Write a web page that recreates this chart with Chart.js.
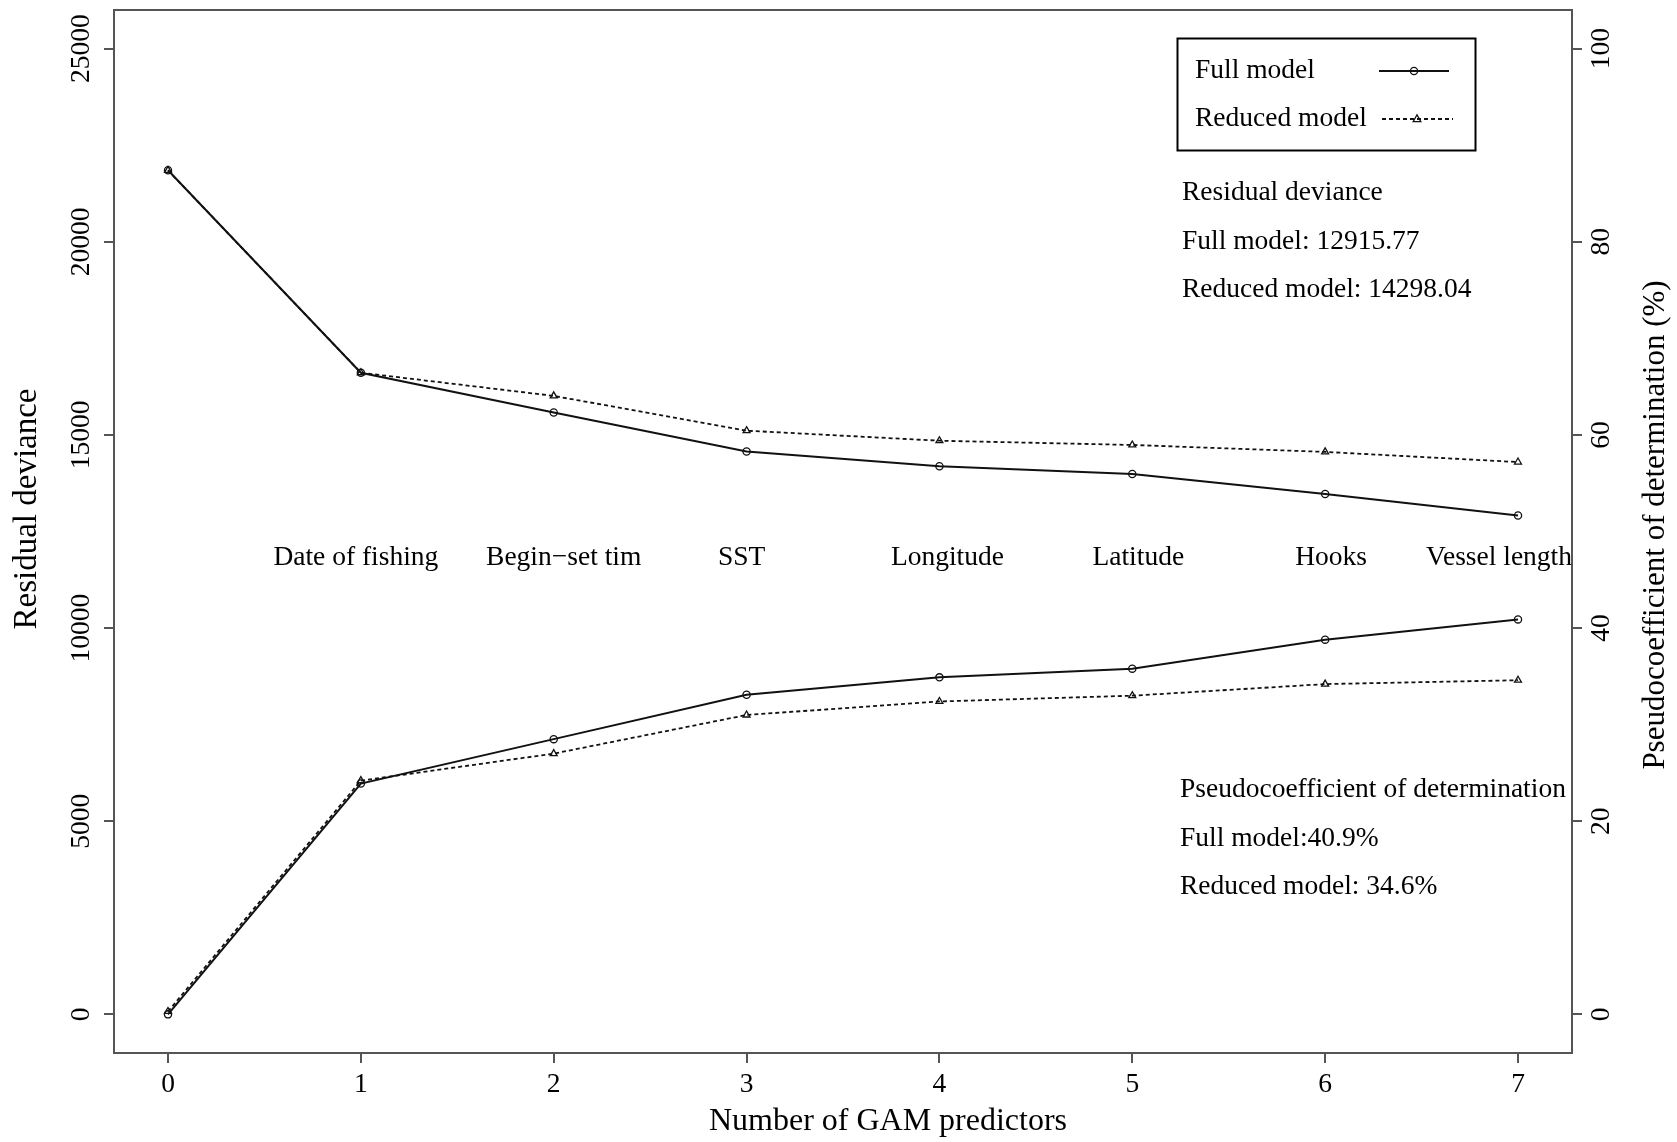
<!DOCTYPE html>
<html>
<head>
<meta charset="utf-8">
<script src="https://cdn.jsdelivr.net/npm/chart.js@4.4.1/dist/chart.umd.min.js"></script>
<style>
  html, body { margin: 0; padding: 0; background: #fff; }
</style>
</head>
<body>
<canvas id="chart" width="1677" height="1142"></canvas>
<script>
// number of GAM predictors (x axis)
const predictorCount = [0, 1, 2, 3, 4, 5, 6, 7];
// predictor added at each step
const predictorNames = ["", "Date of fishing", "Begin\u2212set tim", "SST", "Longitude", "Latitude", "Hooks", "Vessel length"];

// residual deviance (left axis)
const devianceFull = [21850, 16610, 15580, 14570, 14190, 13990, 13470, 12916];
const devianceReduced = [21850, 16610, 16010, 15110, 14850, 14740, 14560, 14298];

// pseudocoefficient of determination, % (right axis)
const pseudoFull = [0, 23.9, 28.5, 33.1, 34.9, 35.8, 38.8, 40.9];
const pseudoReduced = [0.3, 24.2, 27.0, 31.0, 32.4, 33.0, 34.2, 34.6];

// tick labels
const xTicks = [0, 1, 2, 3, 4, 5, 6, 7];
const devianceTicks = [0, 5000, 10000, 15000, 20000, 25000];
const pseudoTicks = [0, 20, 40, 60, 80, 100];

// text blocks in the plot
const seriesNames = ["Full model", "Reduced model"];
const devianceNotes = ["Residual deviance", "Full model: 12915.77", "Reduced model: 14298.04"];
const pseudoNotes = ["Pseudocoefficient of determination", "Full model:40.9%", "Reduced model: 34.6%"];

const serif = "'Liberation Serif', 'Times New Roman', serif";
const ink = "#111";
const axisGray = "#555";

// small nudges (px) of the predictor names, as placed in the original
const nameNudge = [0, -5, 10, -5, 8, 6, 6, 0];

function toPoints(values) {
    return values.map((v, i) => ({ x: predictorCount[i], y: v }));
}

// draw a small marker like R's pch 1 / pch 2
function drawMarker(ctx, style, x, y) {
    ctx.save();
    ctx.strokeStyle = ink;
    ctx.lineWidth = 1.3;
    ctx.beginPath();
    if (style == "circle") {
        ctx.arc(x, y, 3.6, 0, Math.PI * 2);
    } else {
        ctx.moveTo(x, y - 4.2);
        ctx.lineTo(x + 3.8, y + 2.6);
        ctx.lineTo(x - 3.8, y + 2.6);
        ctx.closePath();
    }
    ctx.stroke();
    ctx.restore();
}

// everything that chart.js does not draw the R way
const decorations = {
    id: "decorations",
    afterDraw(chart) {
        const ctx = chart.ctx;
        const area = chart.chartArea;
        const sx = chart.scales.x;
        const sy = chart.scales.y;
        const sy1 = chart.scales.y1;

        ctx.save();

        // plot box
        ctx.strokeStyle = axisGray;
        ctx.lineWidth = 2;
        ctx.strokeRect(area.left, area.top, area.right - area.left, area.bottom - area.top);

        ctx.fillStyle = "#000";
        ctx.font = "27.5px " + serif;
        ctx.textBaseline = "middle";

        // x tick labels
        ctx.textAlign = "center";
        for (const t of xTicks) {
            ctx.fillText(String(t), sx.getPixelForValue(t), area.bottom + 32);
        }

        // left tick labels, rotated
        for (const t of devianceTicks) {
            ctx.save();
            ctx.translate(area.left - 32, sy.getPixelForValue(t));
            ctx.rotate(-Math.PI / 2);
            ctx.fillText(String(t), 0, 0);
            ctx.restore();
        }

        // right tick labels, rotated
        for (const t of pseudoTicks) {
            ctx.save();
            ctx.translate(area.right + 30, sy1.getPixelForValue(t));
            ctx.rotate(-Math.PI / 2);
            ctx.fillText(String(t), 0, 0);
            ctx.restore();
        }

        // predictor names between the two groups of curves
        for (let i = 1; i < predictorNames.length; i++) {
            const w = ctx.measureText(predictorNames[i]).width;
            let cx = sx.getPixelForValue(predictorCount[i]) + nameNudge[i];
            if (cx + w / 2 > area.right) {
                cx = area.right - w / 2;
            }
            ctx.fillText(predictorNames[i], cx, sy.getPixelForValue(11830));
        }

        // notes
        ctx.textAlign = "left";
        devianceNotes.forEach((s, i) => ctx.fillText(s, 1182, 193 + i * 48.5));
        pseudoNotes.forEach((s, i) => ctx.fillText(s, 1180, 790 + i * 48.5));

        // legend
        ctx.strokeStyle = "#000";
        ctx.lineWidth = 2;
        ctx.strokeRect(1177.5, 38.5, 298, 112);
        ctx.fillText(seriesNames[0], 1195, 71);
        ctx.fillText(seriesNames[1], 1195, 119);

        ctx.strokeStyle = ink;
        ctx.lineWidth = 1.8;
        ctx.beginPath();
        ctx.moveTo(1379, 71);
        ctx.lineTo(1449, 71);
        ctx.stroke();
        drawMarker(ctx, "circle", 1414, 71);

        ctx.setLineDash([4, 3]);
        ctx.beginPath();
        ctx.moveTo(1382, 119);
        ctx.lineTo(1453, 119);
        ctx.stroke();
        ctx.setLineDash([]);
        drawMarker(ctx, "triangle", 1417, 119);

        // axis titles
        ctx.textAlign = "center";
        ctx.font = "32px " + serif;
        ctx.fillText("Number of GAM predictors", 888, 1122);

        ctx.save();
        ctx.font = "33px " + serif;
        ctx.translate(27, 509);
        ctx.rotate(-Math.PI / 2);
        ctx.fillText("Residual deviance", 0, 0);
        ctx.restore();

        ctx.save();
        ctx.font = "31px " + serif;
        ctx.translate(1656, 525);
        ctx.rotate(-Math.PI / 2);
        ctx.fillText("Pseudocoefficient of determination (%)", 0, 0);
        ctx.restore();

        ctx.restore();
    }
};

function lineSet(label, values, axis, style, dashed) {
    return {
        label: label,
        data: toPoints(values),
        yAxisID: axis,
        borderColor: ink,
        borderWidth: dashed ? 1.8 : 2,
        borderDash: dashed ? [4, 3] : [],
        pointStyle: style,
        pointRadius: style == "circle" ? 3.6 : 4,
        pointBorderWidth: 1.3,
        pointBorderColor: ink,
        pointBackgroundColor: "rgba(0,0,0,0)",
        tension: 0,
        fill: false
    };
}

// tick marks only, outside the box; labels are drawn by the plugin
function axisGrid() {
    return { drawOnChartArea: false, drawTicks: true, tickLength: 10, color: axisGray, lineWidth: 2 };
}

new Chart(document.getElementById("chart"), {
    type: "line",
    data: {
        datasets: [
            lineSet(seriesNames[0], devianceFull, "y", "circle", false),
            lineSet(seriesNames[1], devianceReduced, "y", "triangle", true),
            lineSet(seriesNames[0], pseudoFull, "y1", "circle", false),
            lineSet(seriesNames[1], pseudoReduced, "y1", "triangle", true)
        ]
    },
    options: {
        responsive: false,
        animation: false,
        devicePixelRatio: 1,
        layout: { padding: { top: 10, left: 0, right: 0, bottom: 0 } },
        plugins: {
            legend: { display: false },
            tooltip: { enabled: false }
        },
        scales: {
            x: {
                type: "linear",
                min: -0.28,
                max: 7.28,
                afterBuildTicks: (s) => { s.ticks = xTicks.map((v) => ({ value: v })); },
                afterFit: (s) => { s.height = 89; },
                ticks: { display: false },
                grid: axisGrid(),
                border: { display: false }
            },
            y: {
                position: "left",
                min: -1000,
                max: 26000,
                afterBuildTicks: (s) => { s.ticks = devianceTicks.map((v) => ({ value: v })); },
                afterFit: (s) => { s.width = 114; },
                ticks: { display: false },
                grid: axisGrid(),
                border: { display: false }
            },
            y1: {
                position: "right",
                min: -4,
                max: 104,
                afterBuildTicks: (s) => { s.ticks = pseudoTicks.map((v) => ({ value: v })); },
                afterFit: (s) => { s.width = 105; },
                ticks: { display: false },
                grid: axisGrid(),
                border: { display: false }
            }
        }
    },
    plugins: [decorations]
});
</script>
</body>
</html>
